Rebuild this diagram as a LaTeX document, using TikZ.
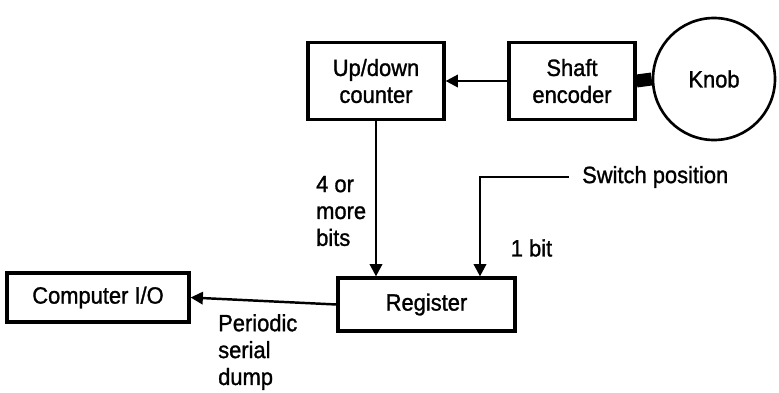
\documentclass[tikz,border=0pt]{standalone}
\usepackage{fontspec}
\setmainfont[FakeStretch=0.93,FakeBold=1.2]{Liberation Sans}
\usepackage{tikz}
\usetikzlibrary{arrows.meta,positioning,calc}

\begin{document}
\begin{tikzpicture}[
  blk/.style={rectangle, draw=black, line width=1.8pt,
              align=center, font=\fontsize{13.4}{15.3}\selectfont},
  lbl/.style={align=left, font=\fontsize{13.4}{15.3}\selectfont},
  arr/.style={-{Triangle[length=7pt,width=7pt]}, line width=1.4pt},
]
\useasboundingbox (0,0) rectangle (15.58,7.84);

% Top row: counter <- shaft encoder - knob
\node[blk, minimum width=2.72cm, minimum height=1.54cm] (cnt) at (7.52,6.22) {Up/down\\counter};
\node[blk, minimum width=2.52cm, minimum height=1.54cm] (enc) at (11.44,6.22) {Shaft\\encoder};
\node[circle, draw=black, line width=1.5pt, minimum size=2.44cm,
      font=\fontsize{13.4}{15.3}\selectfont] (knob) at (14.28,6.26) {Knob};

% Bottom row
\node[blk, minimum width=3.54cm, minimum height=1.06cm] (reg) at (8.53,1.75) {Register};
\node[blk, minimum width=3.64cm, minimum height=0.98cm] (cio) at (1.96,1.89) {Computer I/O};

% Labels
\node[lbl, anchor=west] (sw) at (11.52,4.3) {Switch position};
\node[lbl, anchor=west] (nb) at (6.2,3.62) {4 or\\more\\bits};
\node[lbl] (ob) at (10.63,2.88) {1 bit};
\node[lbl, anchor=west] (pd) at (4.24,0.8) {Periodic\\serial\\dump};

% Connectors
\draw[line width=0.26cm] (enc.east) -- (knob.west);
\draw[arr] (enc.west) -- (cnt.east);
\draw[arr] (cnt.south) -- (cnt.south |- reg.north);
\draw[arr] ([xshift=-0.15cm]sw.west) -| ([xshift=1.07cm]reg.north);
\draw[arr] (reg.west) -- (cio.east);
\end{tikzpicture}
\end{document}
